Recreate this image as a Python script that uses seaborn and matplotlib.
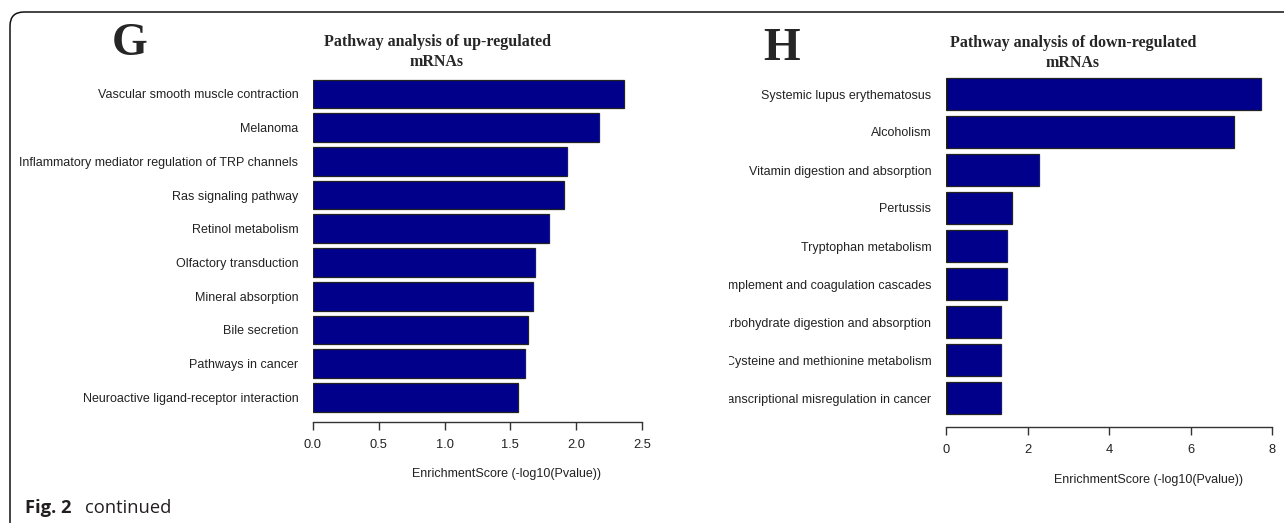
import matplotlib
matplotlib.use("Agg")
import matplotlib.pyplot as plt
import seaborn as sns
import pandas as pd
from matplotlib.patches import FancyBboxPatch
from matplotlib.transforms import Bbox, IdentityTransform

# Enriched pathways among up-regulated mRNAs
up_pathways = [
    "Vascular smooth muscle contraction",
    "Melanoma",
    "Inflammatory mediator regulation of TRP channels",
    "Ras signaling pathway",
    "Retinol metabolism",
    "Olfactory transduction",
    "Mineral absorption",
    "Bile secretion",
    "Pathways in cancer",
    "Neuroactive ligand-receptor interaction",
]
up_scores = [2.36, 2.17, 1.93, 1.91, 1.79, 1.69, 1.67, 1.63, 1.61, 1.56]
up_ticks = [0.0, 0.5, 1.0, 1.5, 2.0, 2.5]

# Enriched pathways among down-regulated mRNAs
down_pathways = [
    "Systemic lupus erythematosus",
    "Alcoholism",
    "Vitamin digestion and absorption",
    "Pertussis",
    "Tryptophan metabolism",
    "Complement and coagulation cascades",
    "Carbohydrate digestion and absorption",
    "Cysteine and methionine metabolism",
    "Transcriptional misregulation in cancer",
]
down_scores = [7.73, 7.07, 2.28, 1.62, 1.50, 1.50, 1.35, 1.35, 1.35]
down_ticks = [0, 2, 4, 6, 8]

x_label = "EnrichmentScore (-log10(Pvalue))"

W, H = 1284, 523
sns.set_theme(style="white")
plt.rcParams["font.family"] = ["Liberation Sans", "DejaVu Sans"]

fig = plt.figure(figsize=(W / 100, H / 100), dpi=100)
fig.patch.set_facecolor("white")

BAR = "#00008B"
EDGE = "#222222"


def px_axes(left, right, top, bottom):
    return fig.add_axes([left / W, 1 - bottom / H, (right - left) / W, (bottom - top) / H])


def panel(ax, labels, scores, ticks, first_c, step, top, bottom, pad_pts):
    df = pd.DataFrame({"pathway": labels, "score": scores})
    sns.barplot(data=df, x="score", y="pathway", orient="h", color=BAR,
                saturation=1, edgecolor=EDGE, linewidth=0.9, width=0.85, ax=ax)
    ax.set_xlim(ticks[0], ticks[-1])
    ax.set_ylim((bottom - first_c) / step, (top - first_c) / step)
    for s in ("top", "right", "left"):
        ax.spines[s].set_visible(False)
    ax.spines["bottom"].set_bounds(ticks[0], ticks[-1])
    ax.spines["bottom"].set_color("#333333")
    ax.spines["bottom"].set_linewidth(1.0)
    ax.set_xticks(ticks)
    ax.set_xticklabels([f"{t:.1f}" if isinstance(t, float) else str(t) for t in ticks])
    ax.tick_params(axis="x", direction="out", length=5.5, width=1.0, color="#333333",
                   pad=6.5, labelsize=9.3, labelcolor="#222222", bottom=True)
    ax.tick_params(axis="y", length=0, pad=pad_pts, labelsize=9, labelcolor="#222222")
    ax.set_xlabel("")
    ax.set_ylabel("")
    ax.patch.set_alpha(0)


# Left panel (G)
axL = px_axes(313, 642, 75, 422)
panel(axL, up_pathways, up_scores, up_ticks, 94, 33.7, 75, 422, 10.5)

# Right panel (H)
axR = px_axes(946, 1272, 75, 427)
panel(axR, down_pathways, down_scores, down_ticks, 94, 38.0, 75, 427, 10.5)

# Right-panel category names are cut off at the panel border
clip = Bbox([[729, 0], [W, H]])
for lab in axR.get_yticklabels():
    lab.set_clip_on(True)
    lab.set_clip_box(clip)

# Panel letters and titles
serif = ["Liberation Serif", "DejaVu Serif"]
fig.text(130 / W, 1 - 44 / H, "G", family=serif, fontweight="bold", fontsize=33,
         ha="center", va="center")
fig.text(782 / W, 1 - 49 / H, "H", family=serif, fontweight="bold", fontsize=34,
         ha="center", va="center")
fig.text(437 / W, 1 - 52 / H, "Pathway analysis of up-regulated\nmRNAs", family=serif,
         fontweight="bold", fontsize=11.5, ha="center", va="center", linespacing=1.3)
fig.text(1073 / W, 1 - 53 / H, "Pathway analysis of down-regulated\nmRNAs", family=serif,
         fontweight="bold", fontsize=11.5, ha="center", va="center", linespacing=1.3)

# Axis titles
fig.text(507 / W, 1 - 474 / H, x_label, fontsize=9, color="#222222", ha="center", va="center")
fig.text(1148 / W, 1 - 480 / H, x_label, fontsize=9, color="#222222", ha="center", va="center")

# Rounded figure frame (top and left edges visible)
frame = FancyBboxPatch((10, -40), W + 60, (H - 12) + 40,
                       boxstyle="round,pad=0,rounding_size=14",
                       transform=IdentityTransform(), fill=False,
                       edgecolor="#111111", linewidth=1.1)
fig.add_artist(frame)

# Caption
cap = ["Open Sans", "DejaVu Sans"]
fig.text(25 / W, 1 - 513 / H, "Fig. 2", family=cap, fontweight="bold", fontsize=13.2,
         color="#231f20", ha="left", va="baseline")
fig.text(85 / W, 1 - 513 / H, "continued", family=cap, fontsize=13.2,
         color="#231f20", ha="left", va="baseline")

fig.savefig("out.png", dpi=100, facecolor="white")
